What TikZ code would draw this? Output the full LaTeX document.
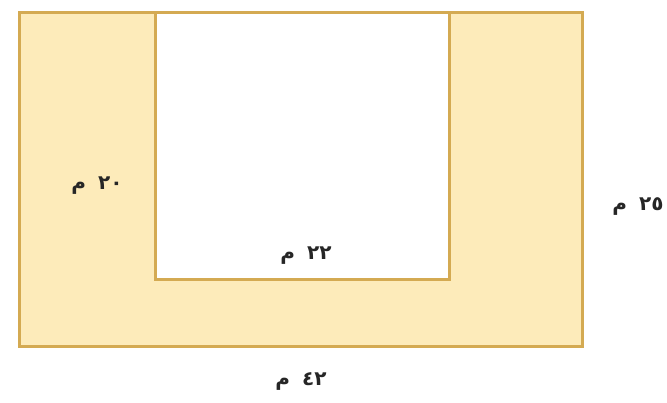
\documentclass[tikz,border=0pt]{standalone}
\usepackage{fontspec}
\newfontfamily\arabicfont[Script=Arabic]{DejaVu Sans}
\TeXXeTstate=1
\definecolor{fillc}{HTML}{FDEBBA}
\definecolor{edgec}{HTML}{D4AA52}
\begin{document}
\begin{tikzpicture}[x=1pt,y=-1pt,
  region/.style={draw=edgec,line width=3pt,line join=miter},
  lbl/.style={font=\fontsize{20}{24}\selectfont\arabicfont\bfseries,text=black!85,inner sep=0pt}]
\useasboundingbox (0,0) rectangle (667,402);
\fill[white] (0,0) rectangle (667,402);
\draw[region,fill=fillc] (19,12) rectangle (582,346);
\draw[region,fill=white] (155,12) rectangle (449,279);
\draw[edgec,line width=3pt] (19,12) -- (582,12);
\node[lbl] (w20) at (97,186) {\beginR\beginL ٢٠\endL\hspace{12pt}م\endR};
\node[lbl] (w22) at (306,256) {\beginR\beginL ٢٢\endL\hspace{12pt}م\endR};
\node[lbl] (w25) at (638,207) {\beginR\beginL ٢٥\endL\hspace{12pt}م\endR};
\node[lbl] (w42) at (301,381) {\beginR\beginL ٤٢\endL\hspace{12pt}م\endR};
\end{tikzpicture}
\end{document}
